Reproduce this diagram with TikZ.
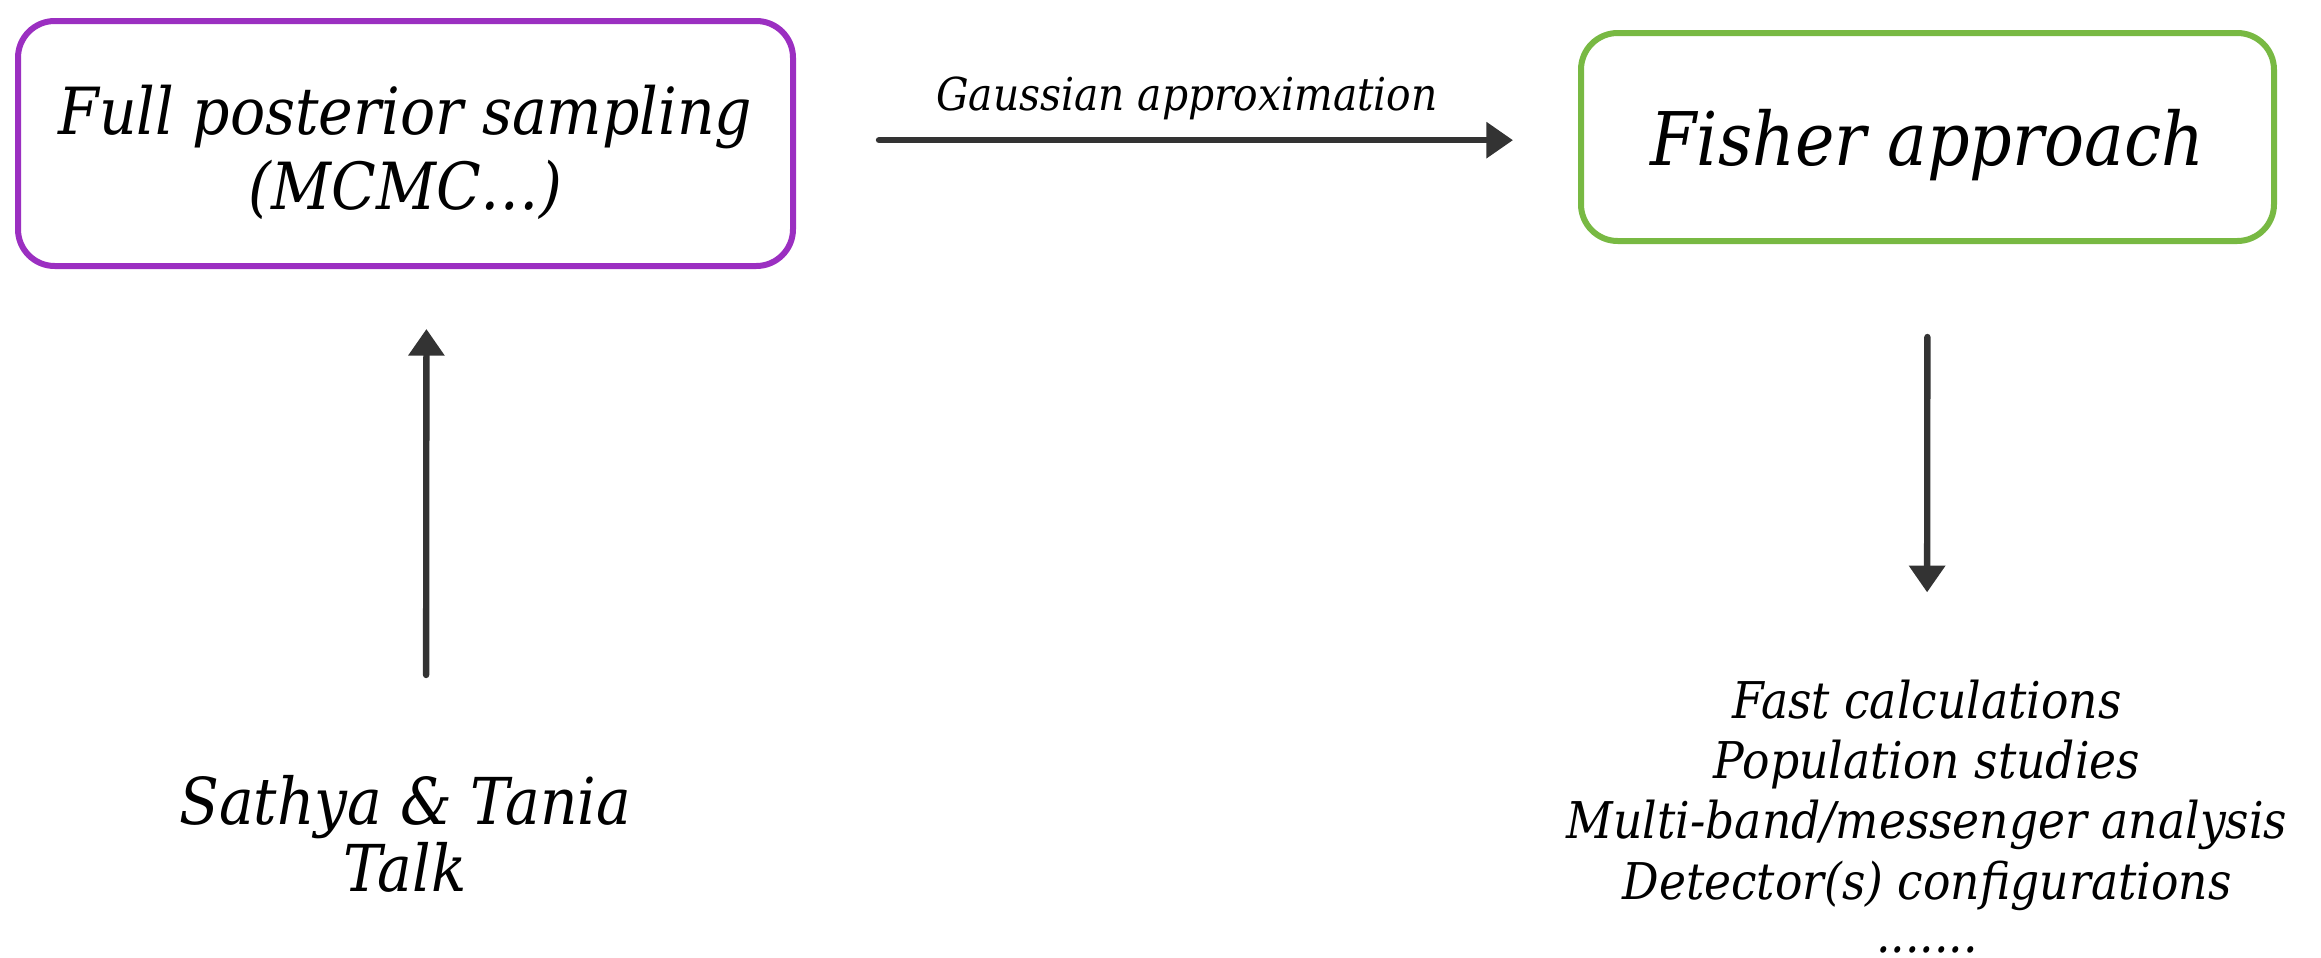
\documentclass[tikz,border=0pt]{standalone}
\usepackage{fontspec}
\setmainfont{DejaVu Serif}[FakeStretch=0.9]
\usetikzlibrary{arrows.meta,calc}
\definecolor{boxpurple}{HTML}{9B2FC1}
\definecolor{boxgreen}{HTML}{78B943}
\definecolor{arrowgray}{HTML}{333333}
\tikzset{
  box/.style={draw, line width=1.8pt, rounded corners=11pt, fill=white, inner sep=0pt},
  conn/.style={draw=arrowgray, line width=1.9pt, line cap=round, -{Triangle[length=8pt,width=10.5pt]}},
  plain/.style={align=center, inner sep=0pt, text=black},
}
\begin{document}
\begin{tikzpicture}[x=0.3pt, y=-0.3pt, font=\itshape]
\useasboundingbox (0,0) rectangle (2321,958);
\node[box, draw=boxpurple, minimum width=232.5pt, minimum height=73.5pt] (full) at (405.5,143.5) {};
\node[plain, font=\fontsize{19.5}{22.5}\itshape] (fulltext) at ([yshift=-2.7pt]full.center)
      {Full posterior sampling\\(MCMC\ldots)};
\node[box, draw=boxgreen, minimum width=207.9pt, minimum height=62.4pt] (fisher) at (1927.5,137) {};
\node[plain, font=\fontsize{19.4}{20}\itshape] (fishertext) at ([yshift=-2.4pt]fisher.center) {\fontsize{22.2}{28}\selectfont Fisher approach};
\node[plain, font=\fontsize{19.4}{20}\itshape, anchor=north] (sathya) at (405,775)
      {Sathya \& Tania\\Talk};
\node[plain, font=\fontsize{15.2}{18.1}\itshape, anchor=north] (uses) at (1927,679)
      {Fast calculations\\Population studies\\Multi-band/messenger analysis\\Detector(s) configurations\\[-2.2pt].......};
\draw[conn, shorten <=24.9pt, shorten >=19.5pt] ([yshift=1pt]full.east) -- node[above=5pt, inner sep=0pt, font=\fontsize{13.6}{18}\itshape, text=black] (glabel) {Gaussian approximation} ([yshift=1pt]fisher.west |- full.east);
\draw[conn, shorten <=30pt, shorten >=18pt] ([xshift=6.3pt]sathya.north) -- ([xshift=6.3pt]full.south);
\draw[conn, shorten <=27.9pt, shorten >=26pt] (fisher.south) -- (uses.north);
\end{tikzpicture}
\end{document}
